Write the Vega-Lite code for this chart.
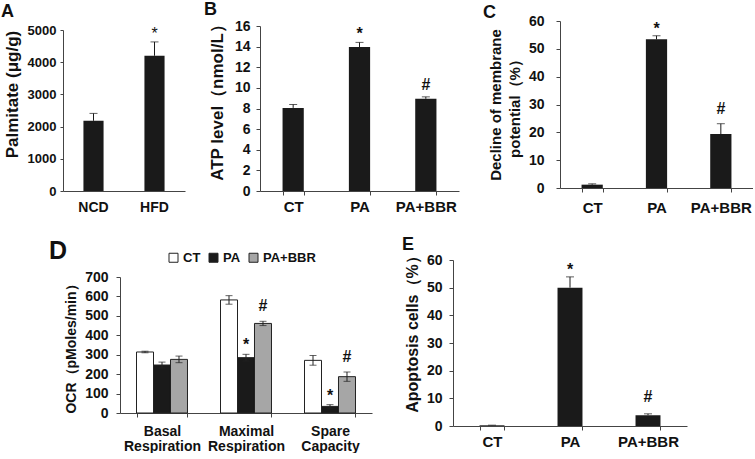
{
  "$schema": "https://vega.github.io/schema/vega-lite/v6.json",
  "padding": {"left": 1, "top": 0, "right": 0, "bottom": 0},
  "background": "white",
  "spacing": 20,
  "resolve": {"scale": {"color": "independent"}, "legend": {"color": "independent"}},
  "config": {
    "view": {"stroke": null},
    "font": "Liberation Sans",
    "axis": {"labelFont": "Liberation Sans", "labelFontWeight": "bold", "labelColor": "#111", "titleFont": "Liberation Sans", "titleFontWeight": "bold", "titleColor": "#111", "domainColor": "#444", "tickColor": "#444", "grid": false, "labelFontSize": 14, "titleFontSize": 15, "tickSize": 4},
    "title": {"font": "Liberation Sans", "fontWeight": "bold", "fontSize": 18, "anchor": "start", "frame": "group", "color": "#111"},
    "text": {"font": "Liberation Sans", "fontWeight": "bold", "fontSize": 16, "color": "#111", "baseline": "alphabetic"}
  },
  "vconcat": [
    {
      "spacing": -38,
      "hconcat": [
        {
          "width": 65, "height": 170,
          "title": {"text": "A", "dx": -119, "offset": 0},
          "data": {"values": [
            {"g": "NCD", "v": 2180, "e": 2410, "s": ""},
            {"g": "HFD", "v": 4200, "e": 4630, "s": "*"}
          ]},
          "encoding": {"x": {"field": "g", "type": "nominal", "sort": null, "scale": {"paddingInner": 0.67, "paddingOuter": 0.335, "range": [-57, 65]}, "axis": {"title": null, "labelAngle": 0, "ticks": false, "labelPadding": 9, "labelFontSize": 14}}},
          "layer": [
            {"mark": {"type": "bar", "color": "#1a1a1a"}, "encoding": {"y": {"field": "v", "type": "quantitative", "scale": {"domain": [0, 5000], "range": [170, 9]}, "axis": {"values": [0, 1000, 2000, 3000, 4000, 5000], "format": "d", "title": "Palmitate (μg/g)", "offset": 57, "labelFontSize": 13, "labelPadding": 4, "tickSize": 3, "titlePadding": 6, "titleFontSize": 17, "titleY": 73}}}},
            {"mark": {"type": "rule", "color": "#1a1a1a"}, "encoding": {"y": {"field": "v", "type": "quantitative", "axis": {"values": [0, 1000, 2000, 3000, 4000, 5000], "format": "d", "title": "Palmitate (μg/g)", "offset": 57, "labelFontSize": 13, "labelPadding": 4, "tickSize": 3, "titlePadding": 6, "titleFontSize": 17, "titleY": 73}}, "y2": {"field": "e"}}},
            {"mark": {"type": "tick", "orient": "horizontal", "size": 8, "thickness": 1, "color": "#1a1a1a"}, "encoding": {"y": {"field": "e", "type": "quantitative", "axis": {"values": [0, 1000, 2000, 3000, 4000, 5000], "format": "d", "title": "Palmitate (μg/g)", "offset": 57, "labelFontSize": 13, "labelPadding": 4, "tickSize": 3, "titlePadding": 6, "titleFontSize": 17, "titleY": 73}}}},
            {"transform": [{"filter": "datum.s == '*'"}], "mark": {"type": "text", "dy": -3, "fontWeight": "normal"}, "encoding": {"y": {"field": "e", "type": "quantitative", "axis": {"values": [0, 1000, 2000, 3000, 4000, 5000], "format": "d", "title": "Palmitate (μg/g)", "offset": 57, "labelFontSize": 13, "labelPadding": 4, "tickSize": 3, "titlePadding": 6, "titleFontSize": 17, "titleY": 73}}, "text": {"field": "s"}}}
          ]
        },
        {
          "width": 261, "height": 170,
          "title": {"text": "B", "dx": -56, "offset": -3},
          "data": {"values": [
            {"g": "CT", "v": 8.06, "e": 8.39, "s": ""},
            {"g": "PA", "v": 13.96, "e": 14.41, "s": "*"},
            {"g": "PA+BBR", "v": 8.94, "e": 9.13, "s": "#"}
          ]},
          "encoding": {"x": {"field": "g", "type": "nominal", "sort": null, "scale": {"paddingInner": 0.68, "paddingOuter": 0.34, "range": [0, 199]}, "axis": {"title": null, "labelAngle": 0, "tickBand": "extent", "labelPadding": 4, "labelFontSize": 15}}},
          "layer": [
            {"mark": {"type": "bar", "color": "#1a1a1a"}, "encoding": {"y": {"field": "v", "type": "quantitative", "scale": {"domain": [0, 16], "range": [170, 5]}, "axis": {"values": [0, 2, 4, 6, 8, 10, 12, 14, 16], "title": "ATP level（nmol/L）", "labelPadding": 6, "titlePadding": 8, "titleFontSize": 17, "titleY": 77}}}},
            {"mark": {"type": "rule", "color": "#1a1a1a"}, "encoding": {"y": {"field": "v", "type": "quantitative", "axis": {"values": [0, 2, 4, 6, 8, 10, 12, 14, 16], "title": "ATP level（nmol/L）", "labelPadding": 6, "titlePadding": 8, "titleFontSize": 17, "titleY": 77}}, "y2": {"field": "e"}}},
            {"mark": {"type": "tick", "orient": "horizontal", "size": 8, "thickness": 1, "color": "#1a1a1a"}, "encoding": {"y": {"field": "e", "type": "quantitative", "axis": {"values": [0, 2, 4, 6, 8, 10, 12, 14, 16], "title": "ATP level（nmol/L）", "labelPadding": 6, "titlePadding": 8, "titleFontSize": 17, "titleY": 77}}}},
            {"transform": [{"filter": "datum.s == '*'"}], "mark": {"type": "text", "dy": -3}, "encoding": {"y": {"field": "e", "type": "quantitative", "axis": {"values": [0, 2, 4, 6, 8, 10, 12, 14, 16], "title": "ATP level（nmol/L）", "labelPadding": 6, "titlePadding": 8, "titleFontSize": 17, "titleY": 77}}, "text": {"field": "s"}}},
            {"transform": [{"filter": "datum.s == '#'"}], "mark": {"type": "text", "dy": -7}, "encoding": {"y": {"field": "e", "type": "quantitative", "axis": {"values": [0, 2, 4, 6, 8, 10, 12, 14, 16], "title": "ATP level（nmol/L）", "labelPadding": 6, "titlePadding": 8, "titleFontSize": 17, "titleY": 77}}, "text": {"field": "s"}}}
          ]
        },
        {
          "width": 193, "height": 167,
          "title": {"text": "C", "dx": -77, "offset": -8},
          "data": {"values": [
            {"g": "CT", "v": 1.2, "e": 1.5, "s": ""},
            {"g": "PA", "v": 53.4, "e": 54.7, "s": "*"},
            {"g": "PA+BBR", "v": 19.4, "e": 23.1, "s": "#"}
          ]},
          "encoding": {"x": {"field": "g", "type": "nominal", "sort": null, "scale": {"paddingInner": 0.67, "paddingOuter": 0.335}, "axis": {"title": null, "labelAngle": 0, "tickBand": "extent", "labelPadding": 8, "labelFontSize": 15}}},
          "layer": [
            {"mark": {"type": "bar", "color": "#1a1a1a"}, "encoding": {"y": {"field": "v", "type": "quantitative", "scale": {"domain": [0, 60]}, "axis": {"values": [0, 10, 20, 30, 40, 50, 60], "title": ["Decline of membrane", "potential（%）"], "labelPadding": 12, "titlePadding": 6, "titleLineHeight": 19}}}},
            {"mark": {"type": "rule", "color": "#1a1a1a"}, "encoding": {"y": {"field": "v", "type": "quantitative", "axis": {"values": [0, 10, 20, 30, 40, 50, 60], "title": ["Decline of membrane", "potential（%）"], "labelPadding": 12, "titlePadding": 6, "titleLineHeight": 19}}, "y2": {"field": "e"}}},
            {"mark": {"type": "tick", "orient": "horizontal", "size": 8, "thickness": 1, "color": "#1a1a1a"}, "encoding": {"y": {"field": "e", "type": "quantitative", "axis": {"values": [0, 10, 20, 30, 40, 50, 60], "title": ["Decline of membrane", "potential（%）"], "labelPadding": 12, "titlePadding": 6, "titleLineHeight": 19}}}},
            {"transform": [{"filter": "datum.s == '*'"}], "mark": {"type": "text", "dy": -2}, "encoding": {"y": {"field": "e", "type": "quantitative", "axis": {"values": [0, 10, 20, 30, 40, 50, 60], "title": ["Decline of membrane", "potential（%）"], "labelPadding": 12, "titlePadding": 6, "titleLineHeight": 19}}, "text": {"field": "s"}}},
            {"transform": [{"filter": "datum.s == '#'"}], "mark": {"type": "text", "dy": -10}, "encoding": {"y": {"field": "e", "type": "quantitative", "axis": {"values": [0, 10, 20, 30, 40, 50, 60], "title": ["Decline of membrane", "potential（%）"], "labelPadding": 12, "titlePadding": 6, "titleLineHeight": 19}}, "text": {"field": "s"}}}
          ]
        }
      ]
    },
    {
      "spacing": 30,
      "resolve": {"scale": {"color": "independent"}, "legend": {"color": "independent"}},
      "hconcat": [
        {
          "width": 252, "height": 153,
          "title": {"text": "D", "dx": -71, "offset": -13, "fontSize": 25},
          "data": {"values": [
            {"cat": "Basal Respiration", "grp": "CT", "v": 314, "lo": 310, "hi": 318, "s": ""},
            {"cat": "Basal Respiration", "grp": "PA", "v": 247, "lo": 232, "hi": 262, "s": ""},
            {"cat": "Basal Respiration", "grp": "PA+BBR", "v": 276, "lo": 259, "hi": 293, "s": ""},
            {"cat": "Maximal Respiration", "grp": "CT", "v": 582, "lo": 560, "hi": 604, "s": ""},
            {"cat": "Maximal Respiration", "grp": "PA", "v": 285, "lo": 268, "hi": 302, "s": "*"},
            {"cat": "Maximal Respiration", "grp": "PA+BBR", "v": 461, "lo": 450, "hi": 472, "s": "#"},
            {"cat": "Spare Capacity", "grp": "CT", "v": 271, "lo": 246, "hi": 296, "s": ""},
            {"cat": "Spare Capacity", "grp": "PA", "v": 34, "lo": 25, "hi": 43, "s": "*"},
            {"cat": "Spare Capacity", "grp": "PA+BBR", "v": 187, "lo": 163, "hi": 211, "s": "#"}
          ]},
          "encoding": {
            "x": {"field": "cat", "type": "nominal", "sort": null, "scale": {"paddingInner": 0.393, "paddingOuter": 0.1965}, "axis": {"title": null, "labelAngle": 0, "labelExpr": "split(datum.label, ' ')", "tickBand": "extent", "labelLineHeight": 15, "labelPadding": 7, "labelFontSize": 14}},
            "xOffset": {"field": "grp", "type": "nominal", "sort": ["CT", "PA", "PA+BBR"], "scale": {"paddingInner": 0, "paddingOuter": 0}}
          },
          "layer": [
            {"mark": {"type": "bar", "stroke": "#222", "strokeWidth": 1}, "encoding": {
              "y": {"field": "v", "type": "quantitative", "scale": {"domain": [0, 700], "range": [153, 17]}, "axis": {"values": [0, 100, 200, 300, 400, 500, 600, 700], "title": "OCR（pMoles/min）", "labelPadding": 8, "titlePadding": 6, "titleFontSize": 14}},
              "color": {"field": "grp", "type": "nominal", "sort": ["CT", "PA", "PA+BBR"], "scale": {"domain": ["CT", "PA", "PA+BBR"], "range": ["#ffffff", "#1a1a1a", "#a6a6a6"]},
                "legend": {"orient": "none", "legendX": 47, "legendY": -9, "direction": "horizontal", "title": null, "symbolType": "square", "symbolSize": 81, "symbolStrokeColor": "#222", "symbolStrokeWidth": 1, "labelFontSize": 13, "labelFont": "Liberation Sans", "labelFontWeight": "bold", "labelColor": "#111", "columnPadding": 6, "labelOffset": 3}}
            }},
            {"mark": {"type": "rule", "color": "#222"}, "encoding": {"y": {"field": "lo", "type": "quantitative", "axis": {"values": [0, 100, 200, 300, 400, 500, 600, 700], "title": "OCR（pMoles/min）", "labelPadding": 8, "titlePadding": 6, "titleFontSize": 14}}, "y2": {"field": "hi"}}},
            {"mark": {"type": "tick", "orient": "horizontal", "size": 7, "thickness": 1, "color": "#222"}, "encoding": {"y": {"field": "hi", "type": "quantitative", "axis": {"values": [0, 100, 200, 300, 400, 500, 600, 700], "title": "OCR（pMoles/min）", "labelPadding": 8, "titlePadding": 6, "titleFontSize": 14}}}},
            {"mark": {"type": "tick", "orient": "horizontal", "size": 7, "thickness": 1, "color": "#222"}, "encoding": {"y": {"field": "lo", "type": "quantitative", "axis": {"values": [0, 100, 200, 300, 400, 500, 600, 700], "title": "OCR（pMoles/min）", "labelPadding": 8, "titlePadding": 6, "titleFontSize": 14}}}},
            {"transform": [{"filter": "datum.s == '*'"}], "mark": {"type": "text", "dy": -4}, "encoding": {"y": {"field": "hi", "type": "quantitative", "axis": {"values": [0, 100, 200, 300, 400, 500, 600, 700], "title": "OCR（pMoles/min）", "labelPadding": 8, "titlePadding": 6, "titleFontSize": 14}}, "text": {"field": "s"}}},
            {"transform": [{"filter": "datum.s == '#'"}], "mark": {"type": "text", "dy": -10}, "encoding": {"y": {"field": "hi", "type": "quantitative", "axis": {"values": [0, 100, 200, 300, 400, 500, 600, 700], "title": "OCR（pMoles/min）", "labelPadding": 8, "titlePadding": 6, "titleFontSize": 14}}, "text": {"field": "s"}}}
          ]
        },
        {
          "width": 234, "height": 166,
          "title": {"text": "E", "dx": -51, "offset": -6},
          "data": {"values": [
            {"g": "CT", "v": 0.25, "e": 0.3, "s": ""},
            {"g": "PA", "v": 50.0, "e": 53.9, "s": "*"},
            {"g": "PA+BBR", "v": 3.9, "e": 4.4, "s": "#"}
          ]},
          "encoding": {"x": {"field": "g", "type": "nominal", "sort": null, "scale": {"paddingInner": 0.68, "paddingOuter": 0.34}, "axis": {"title": null, "labelAngle": 0, "tickBand": "extent", "labelPadding": 4, "labelFontSize": 15}}},
          "layer": [
            {"mark": {"type": "bar", "color": "#1a1a1a"}, "encoding": {"y": {"field": "v", "type": "quantitative", "scale": {"domain": [0, 60]}, "axis": {"values": [0, 10, 20, 30, 40, 50, 60], "title": "Apoptosis cells（%）", "labelPadding": 7, "titlePadding": 6, "titleFontSize": 16, "titleY": 70}}}},
            {"mark": {"type": "rule", "color": "#1a1a1a"}, "encoding": {"y": {"field": "v", "type": "quantitative", "axis": {"values": [0, 10, 20, 30, 40, 50, 60], "title": "Apoptosis cells（%）", "labelPadding": 7, "titlePadding": 6, "titleFontSize": 16, "titleY": 70}}, "y2": {"field": "e"}}},
            {"mark": {"type": "tick", "orient": "horizontal", "size": 8, "thickness": 1, "color": "#1a1a1a"}, "encoding": {"y": {"field": "e", "type": "quantitative", "axis": {"values": [0, 10, 20, 30, 40, 50, 60], "title": "Apoptosis cells（%）", "labelPadding": 7, "titlePadding": 6, "titleFontSize": 16, "titleY": 70}}}},
            {"transform": [{"filter": "datum.s == '*'"}], "mark": {"type": "text", "dy": -2}, "encoding": {"y": {"field": "e", "type": "quantitative", "axis": {"values": [0, 10, 20, 30, 40, 50, 60], "title": "Apoptosis cells（%）", "labelPadding": 7, "titlePadding": 6, "titleFontSize": 16, "titleY": 70}}, "text": {"field": "s"}}},
            {"transform": [{"filter": "datum.s == '#'"}], "mark": {"type": "text", "dy": -12}, "encoding": {"y": {"field": "e", "type": "quantitative", "axis": {"values": [0, 10, 20, 30, 40, 50, 60], "title": "Apoptosis cells（%）", "labelPadding": 7, "titlePadding": 6, "titleFontSize": 16, "titleY": 70}}, "text": {"field": "s"}}}
          ]
        }
      ]
    }
  ]
}
